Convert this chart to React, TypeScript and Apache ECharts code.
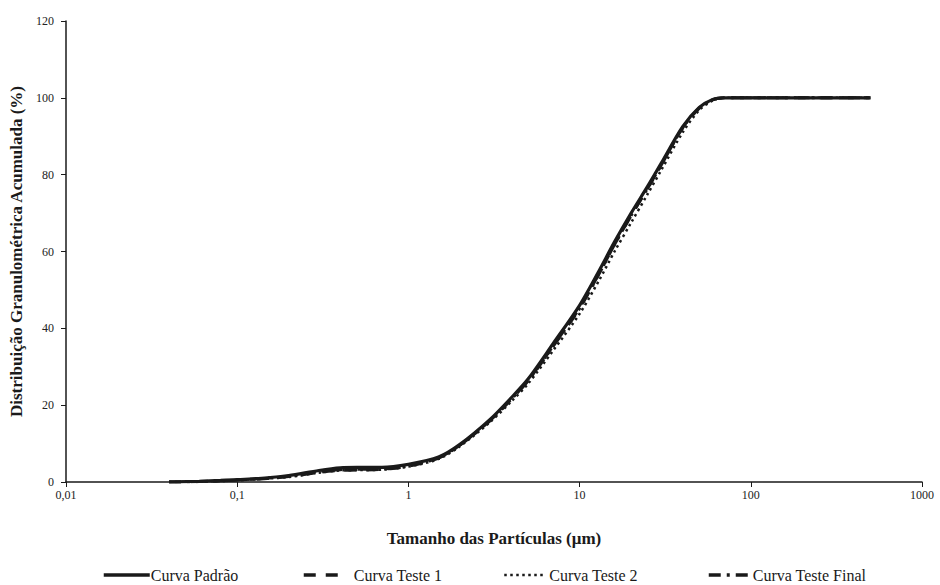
import React, { useEffect, useRef } from "react";
import * as echarts from "echarts";

const sizes = [0.04, 0.06, 0.08, 0.1, 0.15, 0.2, 0.3, 0.4, 0.5, 0.7, 1, 1.5, 2, 3, 4, 5, 7, 10, 13, 16, 20, 25, 30, 40, 50, 60, 70, 100, 200, 500];
const padrao = [0, 0.2, 0.4, 0.6, 1.1, 1.7, 3.0, 3.7, 3.8, 3.8, 4.6, 6.5, 9.8, 16.3, 22, 26.8, 36, 46, 55, 62.5, 70, 77, 83, 92.5, 97.5, 99.6, 100, 100, 100, 100];
const teste1 = [0, 0.1, 0.3, 0.5, 0.9, 1.4, 2.5, 3.0, 3.1, 3.3, 4.1, 6.2, 9.6, 16.0, 21.6, 26.4, 35.4, 45.3, 54.3, 61.8, 69.3, 76.5, 82.5, 92.2, 97.3, 99.5, 100, 100, 100, 100];
const teste2 = [0, 0.1, 0.3, 0.5, 0.9, 1.3, 2.4, 3.0, 3.1, 3.2, 4.0, 6.0, 9.3, 15.6, 21.0, 25.6, 34.2, 43.8, 52.5, 60.0, 67.5, 75.0, 81.2, 91.0, 96.8, 99.3, 100, 100, 100, 100];
const testeFinal = [0, 0.1, 0.3, 0.5, 1.0, 1.5, 2.7, 3.2, 3.3, 3.4, 4.2, 6.3, 9.6, 16.0, 21.6, 26.3, 35.3, 45.2, 54.2, 61.8, 69.4, 76.5, 82.5, 92.2, 97.3, 99.5, 100, 100, 100, 100];
const seriesNames = ["Curva Padrão", "Curva Teste 1", "Curva Teste 2", "Curva Teste Final"];

const FONT = "'Liberation Serif', 'DejaVu Serif', serif";
const INK = "#1a1a1a";

const dashes: any[] = ["solid", [12, 10], [2.5, 3.5], [12, 6, 3, 6]];

export default function App() {
  const ref = useRef<HTMLDivElement>(null);
  useEffect(() => {
    if (!ref.current) return;
    const chart = echarts.init(ref.current, null, { renderer: "svg" });
    const pairs = (ys: number[]) => sizes.map((x, i) => [x, ys[i]]);
    const mk = (name: string, ys: number[], type: any, width: number, z: number) => ({
      name,
      type: "line",
      data: pairs(ys),
      symbol: "none",
      smooth: 0.3,
      z,
      lineStyle: { color: INK, width, type, cap: "butt" },
      itemStyle: { color: INK },
    });
    const legendBase = (i: number, left: number, w: number, pad: number, lw: number) => ({
      data: [seriesNames[i]],
      left,
      top: 567,
      padding: 0,
      itemWidth: w,
      itemHeight: 14,
      itemGap: 0,
      itemStyle: { opacity: 0 },
      lineStyle: { width: lw, type: dashes[i], color: INK, cap: "butt" },
      textStyle: { fontFamily: FONT, fontSize: 16, color: INK, padding: [0, 0, 0, pad] },
      selectedMode: false,
    });
    const fmt = (v: number) => String(Number(v.toPrecision(6))).replace(".", ",");
    chart.setOption({
      animation: false,
      backgroundColor: "#ffffff",
      grid: { left: 66, right: 18, top: 21, bottom: 103, containLabel: false },
      legend: [
        legendBase(0, 102, 46, -4, 3.5),
        legendBase(1, 302, 36, 9, 3.5),
        legendBase(2, 503, 42, -2, 2.5),
        legendBase(3, 707, 43, -4, 3.5),
      ],
      xAxis: {
        type: "log",
        logBase: 10,
        min: 0.01,
        max: 1000,
        name: "Tamanho das Partículas (μm)",
        nameLocation: "middle",
        nameGap: 48,
        nameTextStyle: { fontFamily: FONT, fontSize: 17, fontWeight: "bold", color: INK },
        axisLine: { show: true, lineStyle: { color: INK, width: 1.5 } },
        axisTick: { show: true, inside: false, length: 5, lineStyle: { color: INK, width: 1 } },
        minorTick: { show: false },
        splitLine: { show: false },
        axisLabel: { fontFamily: FONT, fontSize: 12, color: "#222", margin: 7, formatter: fmt },
      },
      yAxis: {
        type: "value",
        min: 0,
        max: 120,
        interval: 20,
        name: "Distribuição Granulométrica Acumulada (%)",
        nameLocation: "middle",
        nameGap: 40,
        nameTextStyle: { fontFamily: FONT, fontSize: 17, fontWeight: "bold", color: INK },
        axisLine: { show: true, lineStyle: { color: INK, width: 1.5 } },
        axisTick: { show: true, inside: false, length: 5, lineStyle: { color: INK, width: 1 } },
        splitLine: { show: false },
        axisLabel: { fontFamily: FONT, fontSize: 12, color: "#222", margin: 12 },
      },
      series: [
        mk(seriesNames[1], teste1, dashes[1], 3, 2),
        mk(seriesNames[2], teste2, dashes[2], 2.5, 2),
        mk(seriesNames[3], testeFinal, dashes[3], 3, 2),
        mk(seriesNames[0], padrao, dashes[0], 3.2, 3),
      ],
    });
    return () => chart.dispose();
  }, []);
  return <div ref={ref} style={{ width: 940, height: 585, position: "absolute", left: 0, top: 0 }} />;
}
